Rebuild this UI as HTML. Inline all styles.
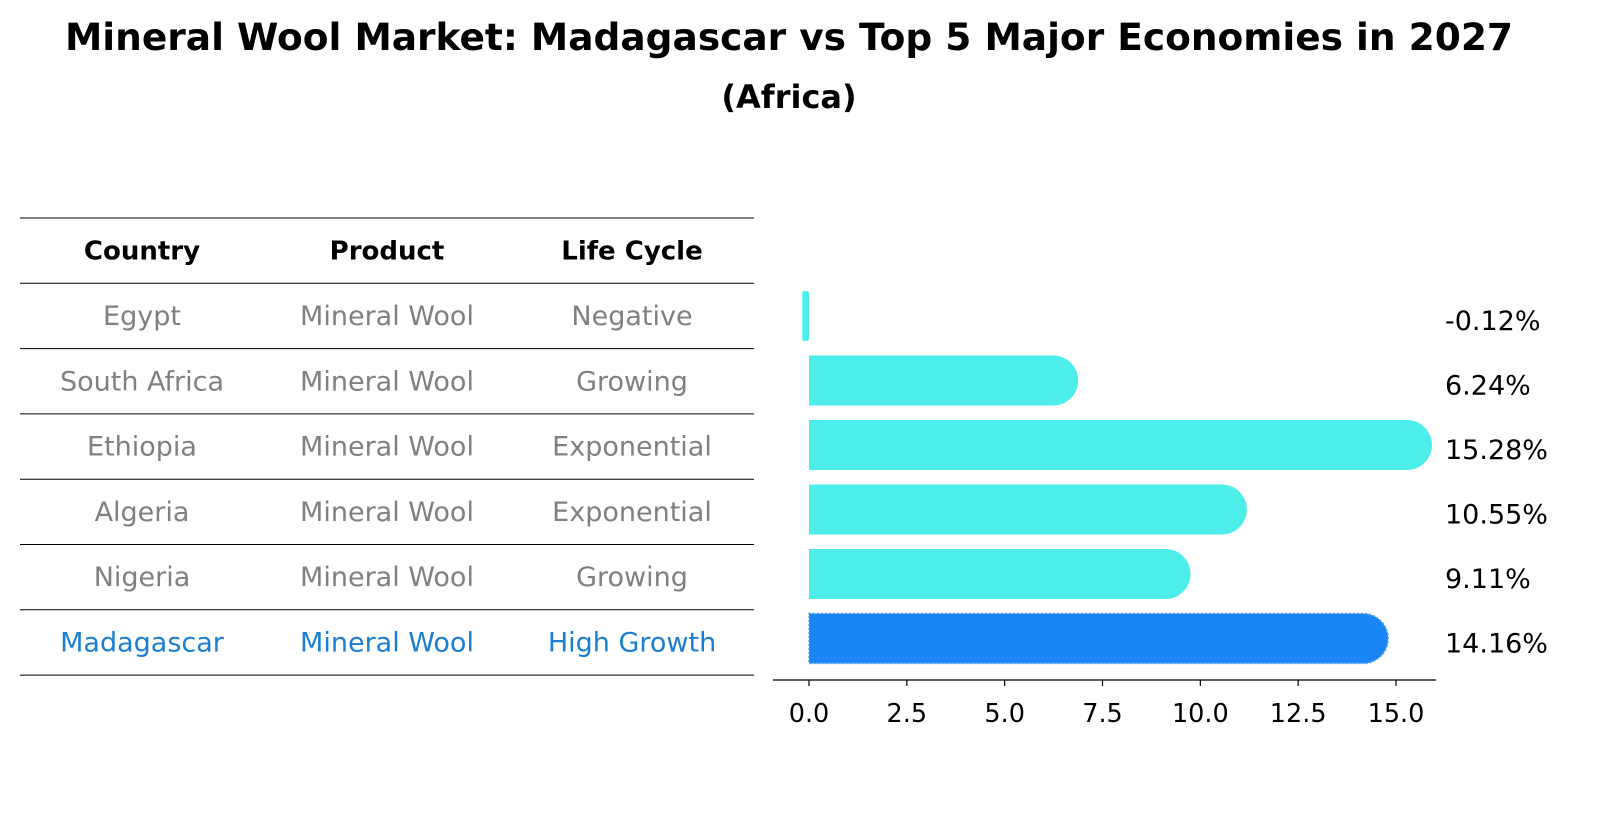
<!DOCTYPE html>
<html><head><meta charset="utf-8"><style>
body{margin:0;background:#fff;font-family:"Liberation Sans","DejaVu Sans",sans-serif;}
#wrap{position:relative;width:1604px;height:823px;overflow:hidden;}
</style></head><body>
<div id="wrap">
<svg id="svg" width="1604" height="823" font-family="DejaVu Sans, Liberation Sans, sans-serif">
<text x="789" y="50" text-anchor="middle" font-size="37.5" font-weight="bold">Mineral Wool Market: Madagascar vs Top 5 Major Economies in 2027</text>
<text x="789" y="108" text-anchor="middle" font-size="32" font-weight="bold">(Africa)</text>
<g id="table"></g>
<g id="bars"></g>
</svg>
</div>
<script>
const countries=["Egypt","South Africa","Ethiopia","Algeria","Nigeria","Madagascar"];
const products=["Mineral Wool","Mineral Wool","Mineral Wool","Mineral Wool","Mineral Wool","Mineral Wool"];
const lifeCycles=["Negative","Growing","Exponential","Exponential","Growing","High Growth"];
const values=[-0.12,6.24,15.28,10.55,9.11,14.16];
const valueLabels=["-0.12%","6.24%","15.28%","10.55%","9.11%","14.16%"];
const ticks=[0,2.5,5,7.5,10,12.5,15];
const tickLabels=["0.0","2.5","5.0","7.5","10.0","12.5","15.0"];

const NS="http://www.w3.org/2000/svg";
function mk(tag,attrs,parent){const e=document.createElementNS(NS,tag);for(const k in attrs)e.setAttribute(k,attrs[k]);parent.appendChild(e);return e;}
const tbl=document.getElementById('table'),bars=document.getElementById('bars');
const rowTop=218,rowH=65.3;
const colX=[142,387,632];
for(let i=0;i<=7;i++){const y=rowTop+i*rowH;const l=mk('line',{x1:20,x2:754,y1:y,y2:y,stroke:'#000','stroke-width':1},tbl);

}
const headers=["Country","Product","Life Cycle"];
headers.forEach((h,j)=>{const t=mk('text',{x:colX[j],y:rowTop+rowH/2+9,'text-anchor':'middle','font-size':26,'font-weight':'bold'},tbl);t.textContent=h;

});
countries.forEach((c,i)=>{const y=rowTop+(i+1)*rowH+rowH/2+9;const col=i===5?'#1a7fd4':'#808080';
[c,products[i],lifeCycles[i]].forEach((s,j)=>{const t=mk('text',{x:colX[j],y:y,'text-anchor':'middle','font-size':27,fill:col},tbl);t.textContent=s;

});});
const x0=809,scale=(1396-809)/15;
const xs=v=>x0+v*scale;
const bh=50;
values.forEach((v,i)=>{const cy=316+i*64.5;const col=i===5?'#1a86f5':'#4deeea';
if(v<0){const r=mk('rect',{x:xs(v)-2,y:cy-bh/2,width:Math.max(4,xs(0)-xs(v)+2),height:bh,fill:col,rx:2},bars);

}
else{const xe=xs(v);const d=`M${x0},${cy-bh/2} L${xe},${cy-bh/2} A${bh/2},${bh/2} 0 0 1 ${xe},${cy+bh/2} L${x0},${cy+bh/2} Z`;
const p=mk('path',{d:d,fill:col},bars);
if(i===5){p.setAttribute('stroke','#5aa0e0');p.setAttribute('stroke-dasharray','2,2');p.setAttribute('stroke-width','1.5');}

}
const t=mk('text',{x:1445,y:cy+14,'font-size':27},bars);t.textContent=valueLabels[i];

});
const ax=mk('line',{x1:773,x2:1436,y1:680,y2:680,stroke:'#000','stroke-width':1.3},bars);


ticks.forEach((v,i)=>{const l=mk('line',{x1:xs(v),x2:xs(v),y1:680,y2:686,stroke:'#000','stroke-width':1.2},bars);


const t=mk('text',{x:xs(v),y:722,'text-anchor':'middle','font-size':25.5},bars);t.textContent=tickLabels[i];

});
</script>
</body></html>
